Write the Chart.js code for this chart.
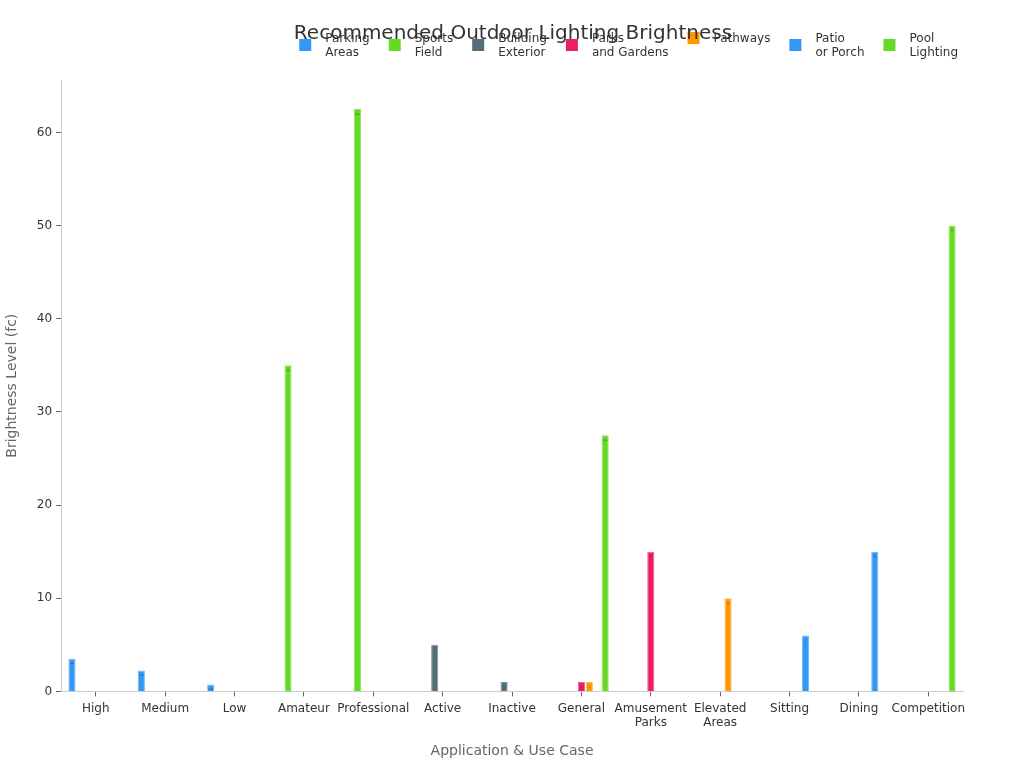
<!DOCTYPE html>
<html lang="en">
<head>
  <meta charset="UTF-8">
  <title>Recommended Outdoor Lighting Brightness</title>
  <script src="https://cdn.jsdelivr.net/npm/chart.js"></script>
  <style>
    html, body {
      margin: 0;
      padding: 0;
      background: #ffffff;
    }
    #chartBox {
      width: 1024px;
      height: 768px;
    }
  </style>
</head>
<body>
  <div id="chartBox">
    <canvas id="lightChart"></canvas>
  </div>

  <script>
    const categories = [
      'High', 'Medium', 'Low', 'Amateur', 'Professional', 'Active', 'Inactive',
      'General', ['Amusement', 'Parks'], ['Elevated', 'Areas'], 'Sitting', 'Dining', 'Competition'
    ];

    const parkingAreas     = [3.5, 2.25, 0.75, null, null, null, null, null, null, null, null, null, null];
    const sportsField      = [null, null, null, 35, 62.5, null, null, null, null, null, null, null, null];
    const buildingExterior = [null, null, null, null, null, 5, 1, null, null, null, null, null, null];
    const parksGardens     = [null, null, null, null, null, null, null, 1, 15, null, null, null, null];
    const pathways         = [null, null, null, null, null, null, null, 1, null, 10, null, null, null];
    const patioPorch       = [null, null, null, null, null, null, null, null, null, null, 6, 15, null];
    const poolLighting     = [null, null, null, null, null, null, null, 27.5, null, null, null, null, 50];

    const yTicks = [0, 10, 20, 30, 40, 50, 60];

    Chart.defaults.font.family = 'DejaVu Sans';
    Chart.defaults.color = '#333333';

    // legend with two-line labels, drawn by hand (chart.js legend clips them)
    const legendPlugin = {
      id: 'legendPlugin',
      afterDraw: (chart) => {
        const ctx = chart.ctx;
        const box = 12, gapText = 14, gapItem = 19, lineH = 14;
        const rightEdge = 958, topLine = 38;
        ctx.save();
        ctx.font = '12px DejaVu Sans';
        ctx.textBaseline = 'middle';
        ctx.textAlign = 'left';
        const items = chart.data.datasets.map(ds => {
          const lines = Array.isArray(ds.label) ? ds.label : [ds.label];
          const w = Math.max(...lines.map(t => ctx.measureText(t).width));
          return { lines: lines, w: w, color: ds.backgroundColor };
        });
        let total = 0;
        items.forEach((it, i) => {
          total += box + gapText + it.w + (i < items.length - 1 ? gapItem : 0);
        });
        let x = rightEdge - total;
        items.forEach((it) => {
          const blockMid = topLine + (it.lines.length - 1) * lineH / 2;
          ctx.fillStyle = it.color;
          ctx.fillRect(x, blockMid - box / 2, box, box);
          ctx.fillStyle = '#333333';
          it.lines.forEach((t, k) => {
            ctx.fillText(t, x + box + gapText, topLine + 1 + k * lineH);
          });
          x += box + gapText + it.w + gapItem;
        });
        ctx.restore();
      }
    };

    // title sits on top of the legend, so draw it by hand too
    const titlePlugin = {
      id: 'titlePlugin',
      afterDraw: (chart) => {
        const ctx = chart.ctx;
        ctx.save();
        ctx.font = '20px DejaVu Sans';
        ctx.fillStyle = '#333333';
        ctx.textAlign = 'center';
        ctx.textBaseline = 'middle';
        ctx.fillText('Recommended Outdoor Lighting Brightness', 513, 34);
        ctx.restore();
      }
    };

    // tiny value labels at the top of each bar
    const valuePlugin = {
      id: 'valuePlugin',
      afterDatasetsDraw: (chart) => {
        const ctx = chart.ctx;
        ctx.save();
        ctx.font = '2px DejaVu Sans';
        ctx.fillStyle = '#333333';
        ctx.textAlign = 'center';
        ctx.textBaseline = 'middle';
        chart.data.datasets.forEach((ds, i) => {
          chart.getDatasetMeta(i).data.forEach((bar, j) => {
            const v = ds.data[j];
            if (v === null) return;
            ctx.fillText(String(v), bar.x, bar.y + 5);
          });
        });
        ctx.restore();
      }
    };

    function makeSet(label, data, color, edge) {
      return {
        label: label,
        data: data,
        backgroundColor: color,
        borderColor: edge,
        borderWidth: 1
      };
    }

    const ctx = document.getElementById('lightChart').getContext('2d');
    const lightChart = new Chart(ctx, {
      type: 'bar',
      data: {
        labels: categories,
        datasets: [
          makeSet(['Parking', 'Areas'], parkingAreas, '#3398f5', '#70b8f8'),
          makeSet(['Sports', 'Field'], sportsField, '#66d925', '#8fe65f'),
          makeSet(['Building', 'Exterior'], buildingExterior, '#546e7a', '#7d939c'),
          makeSet(['Parks', 'and Gardens'], parksGardens, '#e91e63', '#f06292'),
          makeSet('Pathways', pathways, '#ff9800', '#ffb74d'),
          makeSet(['Patio', 'or Porch'], patioPorch, '#3398f5', '#70b8f8'),
          makeSet(['Pool', 'Lighting'], poolLighting, '#66d925', '#8fe65f')
        ]
      },
      options: {
        responsive: true,
        maintainAspectRatio: false,
        animation: false,
        layout: {
          padding: { top: 80, right: 61, bottom: 4, left: 0 }
        },
        plugins: {
          title: { display: false },
          legend: { display: false },
          tooltip: { enabled: false }
        },
        scales: {
          x: {
            grid: {
              display: true,
              drawOnChartArea: false,
              offset: false,
              tickLength: 5,
              tickColor: '#666666'
            },
            border: { color: '#cccccc' },
            ticks: {
              color: '#333333',
              font: { size: 12 },
              padding: 5,
              maxRotation: 0,
              autoSkip: false
            },
            title: {
              display: true,
              text: 'Application & Use Case',
              color: '#666666',
              font: { size: 14 },
              padding: { top: 8, bottom: 4 }
            }
          },
          y: {
            min: 0,
            max: 65.625,
            afterBuildTicks: (axis) => {
              axis.ticks = yTicks.map(v => ({ value: v }));
            },
            grid: {
              display: true,
              drawOnChartArea: false,
              tickLength: 5,
              tickColor: '#666666'
            },
            border: { color: '#cccccc' },
            ticks: {
              color: '#333333',
              font: { size: 12 },
              padding: 4
            },
            title: {
              display: true,
              text: 'Brightness Level (fc)',
              color: '#666666',
              font: { size: 14 },
              padding: { top: 4, bottom: 12 }
            }
          }
        }
      },
      plugins: [valuePlugin, legendPlugin, titlePlugin]
    });
  </script>
</body>
</html>
